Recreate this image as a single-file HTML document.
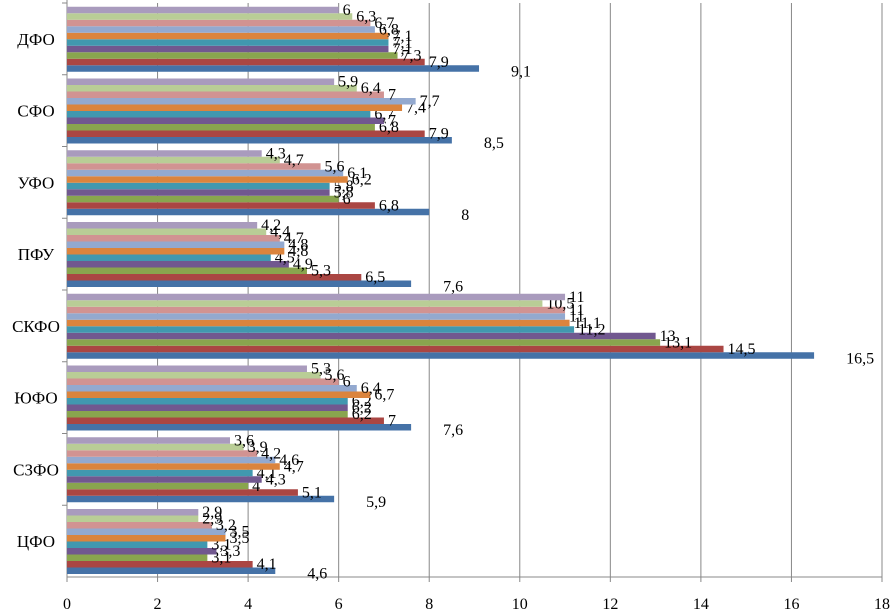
<!DOCTYPE html>
<html><head><meta charset="utf-8"><style>
body{margin:0;background:#fff}
svg{display:block;font-family:"Liberation Serif",serif}
</style></head><body>
<svg id="chart" width="894" height="612" viewBox="0 0 894 612"></svg>
<script>
const categories=["ЦФО","СЗФО","ЮФО","СКФО","ПФУ","УФО","СФО","ДФО"];
const s1=[4.6,5.9,7.6,16.5,7.6,8,8.5,9.1];
const s2=[4.1,5.1,7,14.5,6.5,6.8,7.9,7.9];
const s3=[3.1,4,6.2,13.1,5.3,6,6.8,7.3];
const s4=[3.3,4.3,6.2,13,4.9,5.8,7,7.1];
const s5=[3.1,4.1,6.2,11.2,4.5,5.8,6.7,7.1];
const s6=[3.5,4.7,6.7,11.1,4.8,6.2,7.4,7.1];
const s7=[3.5,4.6,6.4,11,4.8,6.1,7.7,6.8];
const s8=[3.2,4.2,6,11,4.7,5.6,7,6.7];
const s9=[2.9,3.9,5.6,10.5,4.4,4.7,6.4,6.3];
const s10=[2.9,3.6,5.3,11,4.2,4.3,5.9,6];
const series=[s1,s2,s3,s4,s5,s6,s7,s8,s9,s10];
const colors=["#4572a7","#aa4643","#89a54e","#71588f","#4198af","#db843d","#93a9cf","#d19392","#b9cd96","#a99bbd"];
const xTicks=[0,2,4,6,8,10,12,14,16,18];
const NS="http://www.w3.org/2000/svg";
const svg=document.getElementById("chart");
const X0=67,X1=882,YT=3,YB=577;
const x=v=>X0+v/18*(X1-X0);
const band=(YB-YT)/categories.length;
const bandTop=i=>YB-(i+1)*band;
function mk(t,a){const e=document.createElementNS(NS,t);for(const k in a)e.setAttribute(k,a[k]);svg.appendChild(e);return e;}
xTicks.forEach(t=>{
  if(t>0){const g=mk("line",{x1:x(t),x2:x(t),y1:YT,y2:YB,stroke:"#888","stroke-width":1});
  
  }
  const tk=mk("line",{x1:x(t),x2:x(t),y1:YB,y2:YB+5,stroke:"#888"});
  
  
  const l=mk("text",{x:x(t),y:609,"font-size":16,"text-anchor":"middle"});l.textContent=t;
  
  
});
const ax=mk("line",{x1:X0,x2:X0,y1:YT-3,y2:YB,stroke:"#888"});


const ax2=mk("line",{x1:X0,x2:X1,y1:YB,y2:YB,stroke:"#888"});


const bh=6.5;
categories.forEach((c,i)=>{
  const top=bandTop(i);
  const tk=mk("line",{x1:X0-5,x2:X0,y1:top,y2:top,stroke:"#888"});
  
  
  const cl=mk("text",{x:36,y:top+band/2+6,"font-size":17,"text-anchor":"middle"});cl.textContent=c;
  
  
  series.forEach((s,j)=>{
    const y=top+band-3-(j+1)*bh;
    const r=mk("rect",{x:X0,y:y,width:x(s[i])-X0,height:bh,fill:colors[j]});
    
    
    const off=j===0?32:4, dy=j===0?11:8;
    const t=mk("text",{x:x(s[i])+off,y:y+dy,"font-size":16});
    t.textContent=String(s[i]).replace(".",",");
    
    
  });
});
</script>
</body></html>
